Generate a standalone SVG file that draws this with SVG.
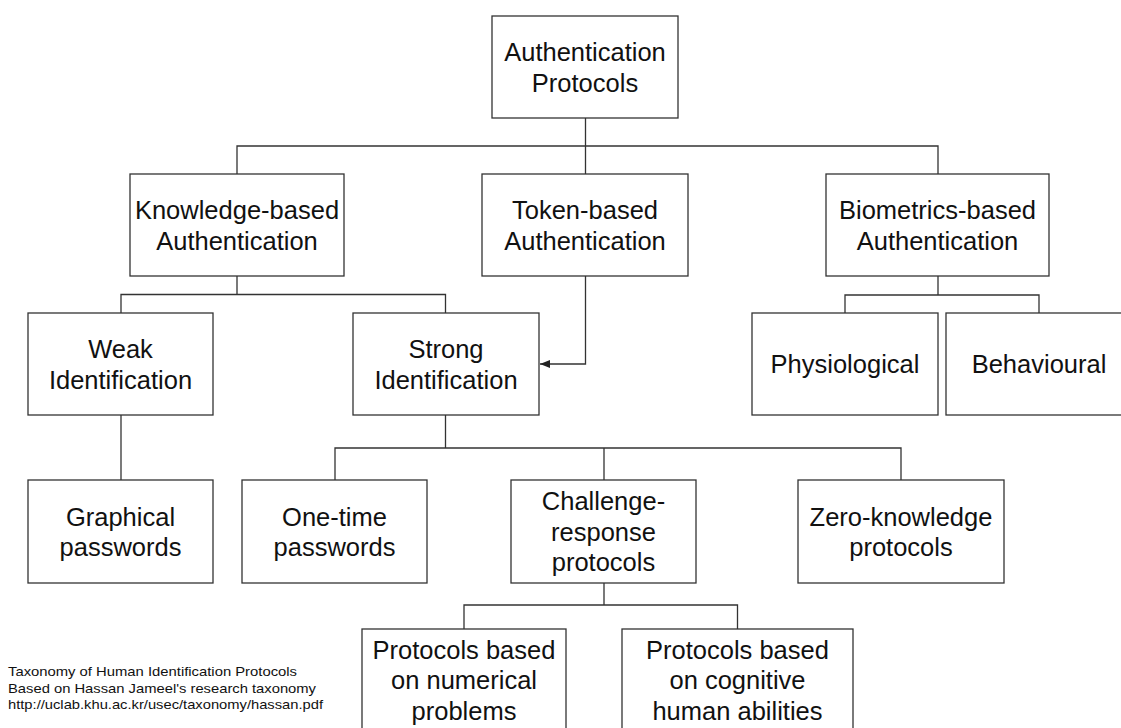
<svg xmlns="http://www.w3.org/2000/svg" width="1121" height="728" viewBox="0 0 1121 728">
<style>
.box{fill:#fff;stroke:#333;stroke-width:1.3}
.lbl{font-family:"Liberation Sans",Arial,sans-serif;font-size:25.5px;fill:#111;text-anchor:middle}
.conn{fill:none;stroke:#333;stroke-width:1.3}
.foot{font-family:"Liberation Sans",Arial,sans-serif;font-size:13px;fill:#111}
</style>
<defs>
<marker id="arr" viewBox="0 0 10 8" refX="10" refY="4" markerWidth="10" markerHeight="8" markerUnits="userSpaceOnUse" orient="auto">
<path d="M0,0 L10,4 L0,8 Z" fill="#222"/>
</marker>
</defs>
<rect width="1121" height="728" fill="#fff"/>
<g id="connectors">
<path class="conn" d="M585.5 118 V174 M237 174 V146 H938 V174"/>
<path class="conn" d="M237 276 V294.5 M121 313 V294.5 H445.5 V313"/>
<path class="conn" d="M585.5 276 V364 H540" marker-end="url(#arr)"/>
<path class="conn" d="M938 276 V295 M845 313 V295 H1039 V313"/>
<path class="conn" d="M121 415 V480"/>
<path class="conn" d="M445.5 415 V448 M335 480 V448 H901 V480 M604 448 V480"/>
<path class="conn" d="M604 583 V605 M464 629 V605 H737.5 V629"/>
</g>
<g id="root"><rect class="box" x="492" y="16" width="186" height="102"/>
<text class="lbl" x="585" y="61">Authentication</text><text class="lbl" x="585" y="91.5">Protocols</text></g>
<g id="knowledge"><rect class="box" x="130" y="174" width="214" height="102"/>
<text class="lbl" x="237" y="219">Knowledge-based</text><text class="lbl" x="237" y="250">Authentication</text></g>
<g id="token"><rect class="box" x="482" y="174" width="206" height="102"/>
<text class="lbl" x="585" y="219">Token-based</text><text class="lbl" x="585" y="250">Authentication</text></g>
<g id="biometrics"><rect class="box" x="826" y="174" width="223" height="102"/>
<text class="lbl" x="937.5" y="219">Biometrics-based</text><text class="lbl" x="937.5" y="250">Authentication</text></g>
<g id="weak"><rect class="box" x="28" y="313" width="185" height="102"/>
<text class="lbl" x="120.5" y="358">Weak</text><text class="lbl" x="120.5" y="388.7">Identification</text></g>
<g id="strong"><rect class="box" x="353" y="313" width="186" height="102"/>
<text class="lbl" x="446" y="358">Strong</text><text class="lbl" x="446" y="388.7">Identification</text></g>
<g id="physiological"><rect class="box" x="752" y="313" width="186" height="102"/>
<text class="lbl" x="845" y="373.3">Physiological</text></g>
<g id="behavioural"><rect class="box" x="946" y="313" width="186" height="102"/>
<text class="lbl" x="1039" y="373.3">Behavioural</text></g>
<g id="graphical"><rect class="box" x="28" y="480" width="185" height="103"/>
<text class="lbl" x="120.5" y="525.5">Graphical</text><text class="lbl" x="120.5" y="556">passwords</text></g>
<g id="onetime"><rect class="box" x="242" y="480" width="185" height="103"/>
<text class="lbl" x="334.5" y="525.5">One-time</text><text class="lbl" x="334.5" y="556">passwords</text></g>
<g id="challenge"><rect class="box" x="511" y="480" width="185" height="103"/>
<text class="lbl" x="603.5" y="510">Challenge-</text><text class="lbl" x="603.5" y="540.7">response</text><text class="lbl" x="603.5" y="571.4">protocols</text></g>
<g id="zeroknowledge"><rect class="box" x="798" y="480" width="206" height="103"/>
<text class="lbl" x="901" y="525.5">Zero-knowledge</text><text class="lbl" x="901" y="556">protocols</text></g>
<g id="numerical"><rect class="box" x="362" y="629" width="204" height="110"/>
<text class="lbl" x="464" y="658.5">Protocols based</text><text class="lbl" x="464" y="689">on numerical</text><text class="lbl" x="464" y="719.7">problems</text></g>
<g id="cognitive"><rect class="box" x="622" y="629" width="231" height="110"/>
<text class="lbl" x="737.5" y="658.5">Protocols based</text><text class="lbl" x="737.5" y="689">on cognitive</text><text class="lbl" x="737.5" y="719.7">human abilities</text></g>
<g id="footer">
<text class="foot" x="8" y="676" textLength="289" lengthAdjust="spacingAndGlyphs">Taxonomy of Human Identification Protocols</text>
<text class="foot" x="8" y="692.5" textLength="308" lengthAdjust="spacingAndGlyphs">Based on Hassan Jameel's research taxonomy</text>
<text class="foot" x="8" y="709" textLength="315" lengthAdjust="spacingAndGlyphs">http://uclab.khu.ac.kr/usec/taxonomy/hassan.pdf</text>
</g>
</svg>
